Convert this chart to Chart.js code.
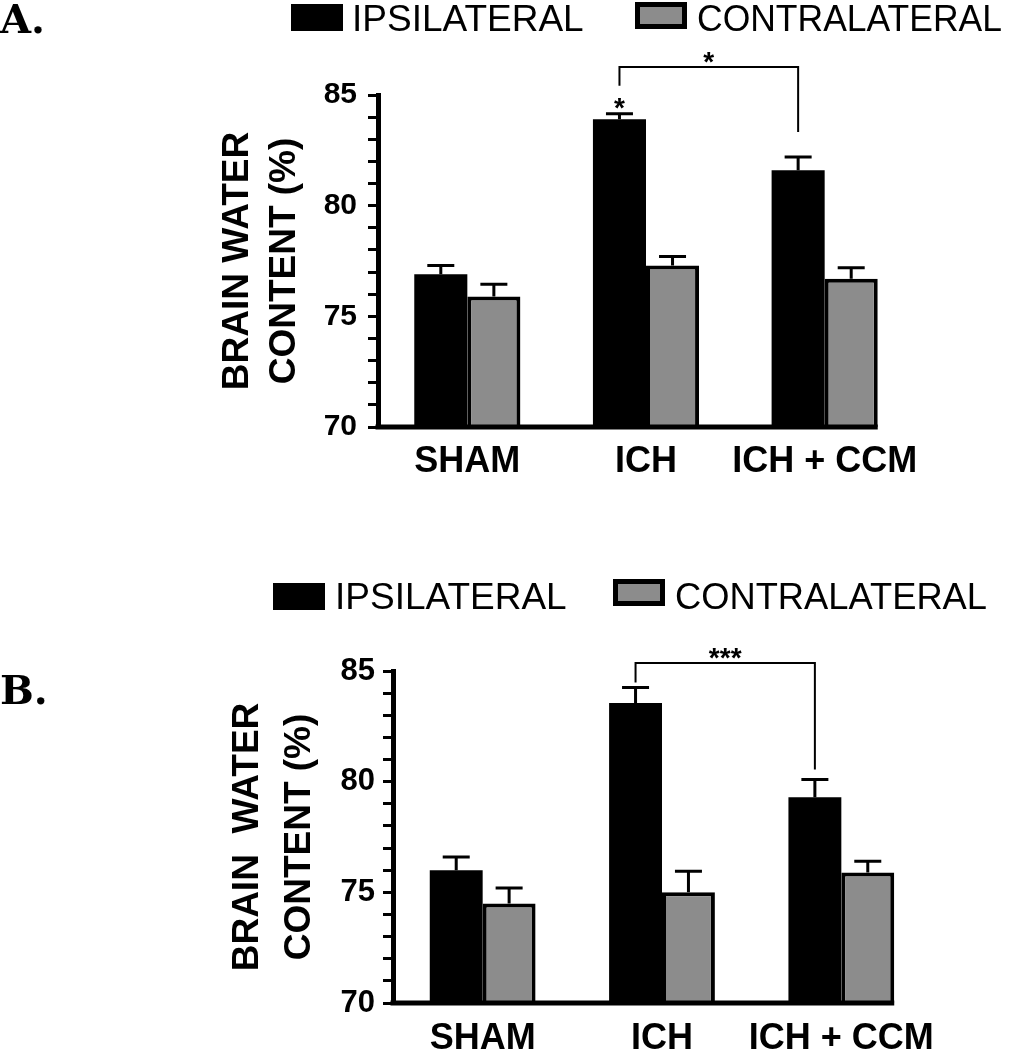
<!DOCTYPE html>
<html>
<head>
<meta charset="UTF-8">
<title>Brain water content</title>
<script src="https://cdn.jsdelivr.net/npm/chart.js"></script>
<style>
  body { margin: 0; background: #fff; }
  .panel { position: absolute; left: 0; width: 1009px; }
  #panelA { top: 0; height: 530px; }
  #panelB { top: 530px; height: 520px; }
</style>
</head>
<body>
<div class="panel" id="panelA"><canvas id="chartA"></canvas></div>
<div class="panel" id="panelB"><canvas id="chartB"></canvas></div>
<script>
  const categories = ['SHAM', 'ICH', 'ICH + CCM'];
  const seriesNames = ['IPSILATERAL', 'CONTRALATERAL'];
  const tickLabels = [70, 75, 80, 85];
  const axisTitleA = ['BRAIN WATER', 'CONTENT (%)'];
  const axisTitleB = ['BRAIN  WATER', 'CONTENT (%)'];

  // panel A
  const ipsiA = [76.9, 83.9, 81.6];
  const ipsiErrA = [0.4, 0.25, 0.6];
  const contraA = [75.9, 77.3, 76.7];
  const contraErrA = [0.55, 0.4, 0.5];
  const bracketsA = [{ from: 1, to: 2, label: '*' }];
  const starsA = [{ at: 1, label: '*' }];

  // panel B
  const ipsiB = [76.0, 83.55, 79.3];
  const ipsiErrB = [0.6, 0.7, 0.8];
  const contraB = [74.5, 75.0, 75.9];
  const contraErrB = [0.7, 0.95, 0.5];
  const bracketsB = [{ from: 1, to: 2, label: '***' }];
  const starsB = [];

  const SANS = '"Liberation Sans", Arial, sans-serif';
  const SERIF = '"DejaVu Serif", serif';

  // draws baseline, error bars, significance marks, legend and panel letter
  const decorPlugin = {
    id: 'decor',
    afterDatasetsDraw(chart, args, opts) {
      const ctx = chart.ctx;
      const area = chart.chartArea;
      const y = chart.scales.y;
      ctx.save();
      ctx.strokeStyle = '#000';
      ctx.fillStyle = '#000';

      // x axis line, ends at the last bar
      let right = area.left;
      chart.data.datasets.forEach((ds, i) => {
        chart.getDatasetMeta(i).data.forEach(b => { right = Math.max(right, b.x + b.width / 2); });
      });
      ctx.lineWidth = 5;
      ctx.beginPath();
      ctx.moveTo(area.left - 2.5, area.bottom);
      ctx.lineTo(right, area.bottom);
      ctx.stroke();

      // error bars (upper only)
      ctx.lineWidth = 3;
      chart.data.datasets.forEach((ds, i) => {
        chart.getDatasetMeta(i).data.forEach((bar, j) => {
          const top = y.getPixelForValue(ds.data[j] + ds.errorBars[j]);
          ctx.beginPath();
          ctx.moveTo(bar.x, bar.y);
          ctx.lineTo(bar.x, top);
          ctx.moveTo(bar.x - opts.capWidth / 2, top);
          ctx.lineTo(bar.x + opts.capWidth / 2, top);
          ctx.stroke();
        });
      });

      const ipsi = chart.data.datasets[0];
      const bars = chart.getDatasetMeta(0).data;
      const errTop = (j) => y.getPixelForValue(ipsi.data[j] + ipsi.errorBars[j]);

      ctx.font = 'bold 28px ' + SANS;
      ctx.textAlign = 'center';
      ctx.textBaseline = 'alphabetic';
      opts.stars.forEach(s => {
        ctx.fillText(s.label, bars[s.at].x, errTop(s.at) + opts.starDrop);
      });

      ctx.lineWidth = 2;
      opts.brackets.forEach(b => {
        const ly = area.top - opts.rise;
        const x1 = bars[b.from].x, x2 = bars[b.to].x;
        ctx.beginPath();
        ctx.moveTo(x1, errTop(b.from) - opts.gapL);
        ctx.lineTo(x1, ly);
        ctx.lineTo(x2, ly);
        ctx.lineTo(x2, errTop(b.to) - opts.gapR);
        ctx.stroke();
        ctx.fillText(b.label, (x1 + x2) / 2, ly + 4);
      });

      // legend
      const lg = opts.legend;
      chart.data.datasets.forEach((ds, i) => {
        const bx = lg.boxX[i], by = lg.boxY[i];
        ctx.fillStyle = '#000';
        ctx.fillRect(bx, by, lg.boxW, lg.boxH);
        if (ds.backgroundColor !== '#000') {
          ctx.fillStyle = ds.backgroundColor;
          ctx.fillRect(bx + 5, by + 5, lg.boxW - 10, lg.boxH - 10);
        }
        ctx.fillStyle = '#000';
        ctx.font = '37px ' + SANS;
        ctx.textAlign = 'left';
        ctx.fillText(ds.label, lg.textX[i], lg.textY, lg.textMax[i]);
      });

      // panel letter
      ctx.font = 'bold 40px ' + SERIF;
      ctx.textAlign = 'left';
      ctx.fillText(opts.letter, 0, opts.letterY);
      ctx.restore();
    }
  };

  function buildChart(canvasId, d, g) {
    return new Chart(document.getElementById(canvasId), {
      type: 'bar',
      data: {
        labels: categories,
        datasets: [
          {
            label: seriesNames[0], data: d.ipsi, errorBars: d.ipsiErr,
            backgroundColor: '#000', borderColor: '#000', borderWidth: 0,
            categoryPercentage: g.catPct, barPercentage: 1
          },
          {
            label: seriesNames[1], data: d.contra, errorBars: d.contraErr,
            backgroundColor: '#8c8c8c', borderColor: '#000', borderWidth: 4,
            categoryPercentage: g.catPct, barPercentage: 1
          }
        ]
      },
      options: {
        responsive: true,
        maintainAspectRatio: false,
        animation: false,
        layout: { padding: { left: 0, top: g.top, right: g.right, bottom: g.bottom } },
        plugins: {
          legend: { display: false },
          tooltip: { enabled: false },
          decor: {
            capWidth: 27, starDrop: 3,
            rise: g.rise, gapL: g.gapL, gapR: g.gapR,
            brackets: d.brackets, stars: d.stars,
            letter: g.letter, letterY: g.letterY,
            legend: g.legend
          }
        },
        scales: {
          x: {
            grid: { display: false, drawTicks: false },
            border: { display: false },
            ticks: {
              color: '#000', padding: g.xPad, maxRotation: 0, autoSkip: false,
              font: { family: SANS, size: 36, weight: 'bold' }
            },
            afterFit: (s) => { s.height = g.xHeight; }
          },
          y: {
            min: 70,
            max: 85,
            grid: { drawOnChartArea: false, drawTicks: true, tickLength: 10, tickWidth: 3, tickColor: '#000' },
            border: { display: true, width: 5, color: '#000' },
            ticks: {
              stepSize: 1, autoSkip: false, maxTicksLimit: 20,
              padding: g.tickPad, color: '#000',
              font: { family: SANS, size: g.tickSize, weight: 'bold' },
              callback: (v) => tickLabels.includes(v) ? String(v) : ''
            },
            title: {
              display: true, text: d.title, color: '#000',
              font: { family: SANS, size: 37, weight: 'bold', lineHeight: g.titleLH },
              padding: { top: g.titlePad, bottom: 0 }
            },
            afterFit: (s) => { s.width = g.axisX; }
          }
        }
      },
      plugins: [decorPlugin]
    });
  }

  buildChart('chartA',
    { ipsi: ipsiA, ipsiErr: ipsiErrA, contra: contraA, contraErr: contraErrA,
      title: axisTitleA, brackets: bracketsA, stars: starsA },
    { axisX: 378, top: 95, right: 95, bottom: 43, xHeight: 60, xPad: 13,
      catPct: 0.594, tickSize: 30, tickPad: 11, titleLH: 1.27, titlePad: 214.5,
      rise: 28, gapL: 28, gapR: 25, letter: 'A.', letterY: 33,
      legend: { boxX: [291, 635], boxY: [4, 2], boxW: 52, boxH: 27, textX: [352, 697], textY: 31, textMax: [232, 305] } });

  buildChart('chartB',
    { ipsi: ipsiB, ipsiErr: ipsiErrB, contra: contraB, contraErr: contraErrB,
      title: axisTitleB, brackets: bracketsB, stars: starsB },
    { axisX: 393, top: 141, right: 78, bottom: 0, xHeight: 47, xPad: 14,
      catPct: 0.59, tickSize: 31, tickPad: 8, titleLH: 1.405, titlePad: 222,
      rise: 8, gapL: 5, gapR: 10, letter: 'B.', letterY: 174,
      legend: { boxX: [273, 613], boxY: [53, 49], boxW: 52, boxH: 27, textX: [335, 675], textY: 79, textMax: [232, 312] } });
</script>
</body>
</html>
